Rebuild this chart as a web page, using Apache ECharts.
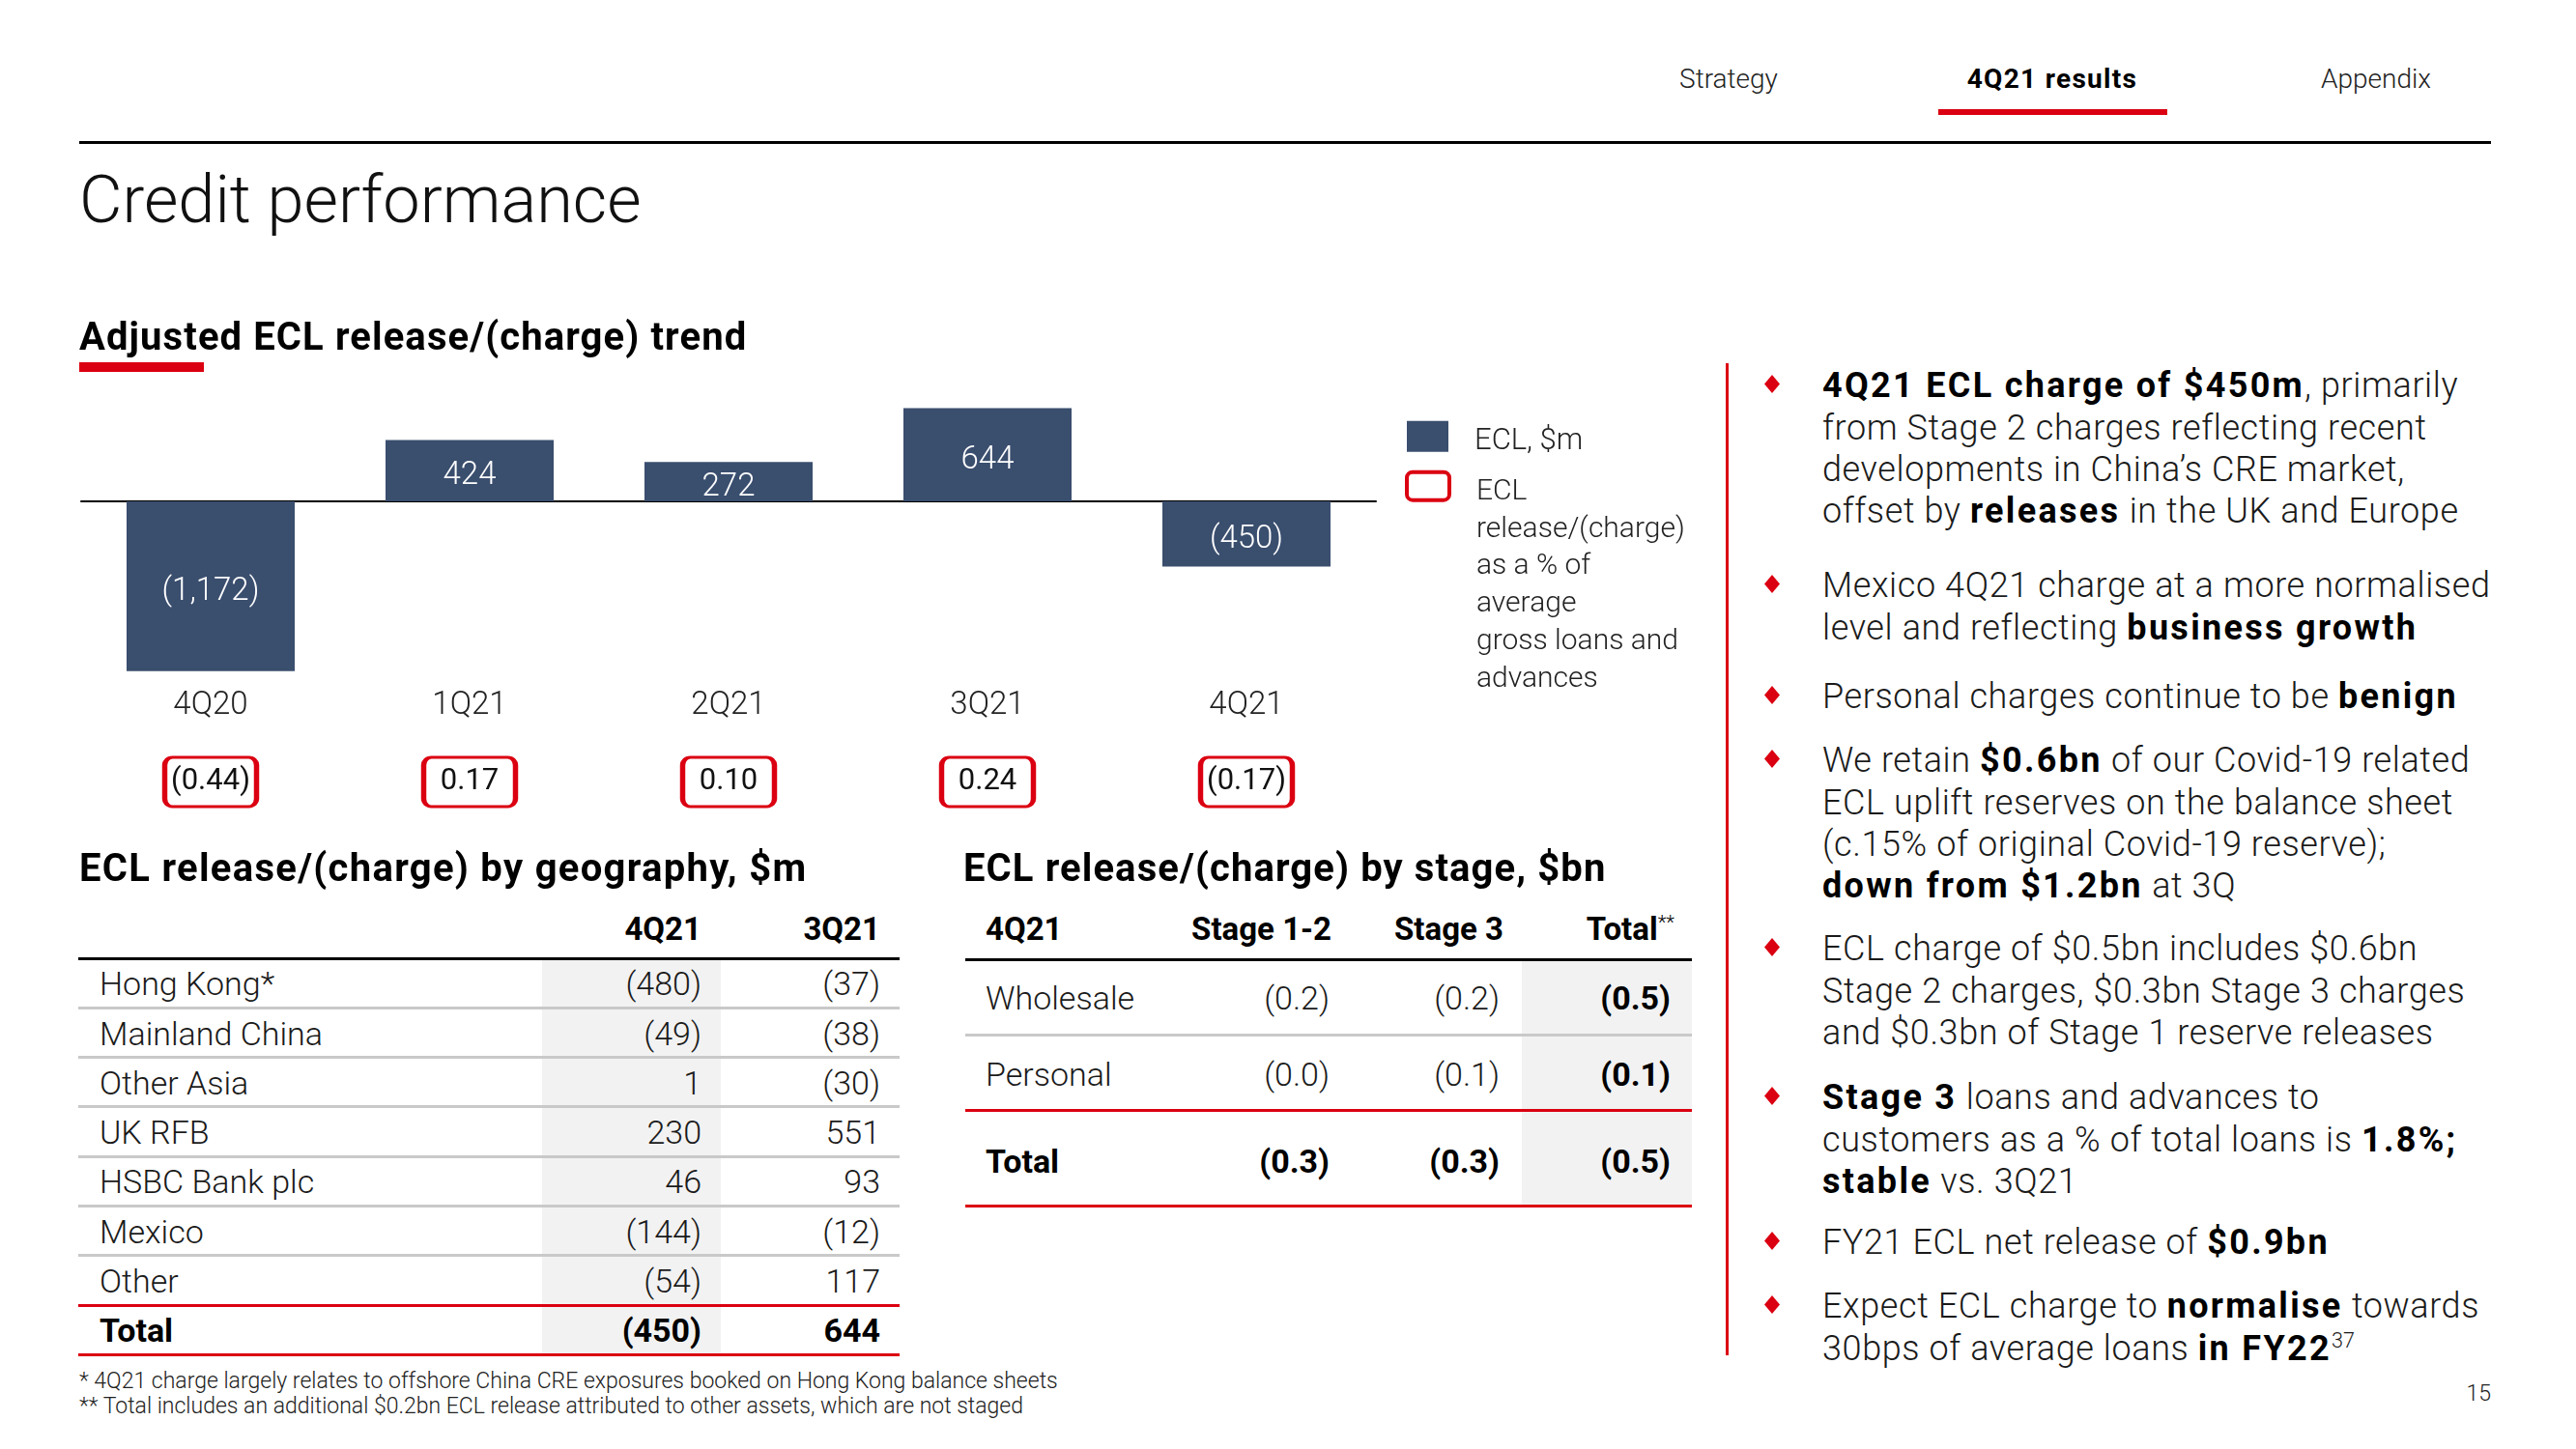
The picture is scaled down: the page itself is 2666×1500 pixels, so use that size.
<!DOCTYPE html>
<html><head><meta charset="utf-8">
<script src="https://cdn.jsdelivr.net/npm/echarts@6/dist/echarts.min.js"></script>
<style>
html,body{margin:0;padding:0;background:#fff;}
#slide{position:relative;width:2666px;height:1500px;overflow:hidden;background:#fff;font-family:Roboto,"Noto Sans",Arial,sans-serif;color:#1a1a1a;}
.t{position:absolute;white-space:nowrap;font-weight:300;}
.t b{font-weight:700;color:#000;}
.bl{letter-spacing:0.6px;}
.bl b{letter-spacing:2.3px;}
.r{position:absolute;}
</style></head>
<body><div id="slide"><div id="chart" style="position:absolute;left:0;top:250px;width:1780px;height:630px;"></div></div>
<script>
// ---------- data ----------
const categories = ['4Q20', '1Q21', '2Q21', '3Q21', '4Q21'];
const eclValues = [-1172, 424, 272, 644, -450];
const eclPct = [-0.44, 0.17, 0.10, 0.24, -0.17];
const barSeriesName = 'ECL, $m';
const pctSeriesName = 'ECL release/(charge) as a % of average gross loans and advances';
const pctLegendLines = ['ECL', 'release/(charge)', 'as a % of', 'average', 'gross loans and', 'advances'];

const geoHeaders = ['4Q21', '3Q21'];
const geoRegions = ['Hong Kong*', 'Mainland China', 'Other Asia', 'UK RFB', 'HSBC Bank plc', 'Mexico', 'Other', 'Total'];
const geo4Q21 = [-480, -49, 1, 230, 46, -144, -54, -450];
const geo3Q21 = [-37, -38, -30, 551, 93, -12, 117, 644];

const stageHeaders = ['4Q21', 'Stage 1-2', 'Stage 3', 'Total**'];
const stageRows = ['Wholesale', 'Personal', 'Total'];
const stage12 = [-0.2, -0.0, -0.3];
const stage3 = [-0.2, -0.1, -0.3];
const stageTotal = [-0.5, -0.1, -0.5];

const navItems = ['Strategy', '4Q21 results', 'Appendix'];
const bullets = [
  ['<b>4Q21 ECL charge of $450m</b>, primarily', 'from Stage 2 charges reflecting recent', 'developments in China’s CRE market,', 'offset by <b>releases</b> in the UK and Europe'],
  ['Mexico 4Q21 charge at a more normalised', 'level and reflecting <b>business growth</b>'],
  ['Personal charges continue to be <b>benign</b>'],
  ['We retain <b>$0.6bn</b> of our Covid-19 related', 'ECL uplift reserves on the balance sheet', '(c.15% of original Covid-19 reserve);', '<b>down from $1.2bn</b> at 3Q'],
  ['ECL charge of $0.5bn includes $0.6bn', 'Stage 2 charges, $0.3bn Stage 3 charges', 'and $0.3bn of Stage 1 reserve releases'],
  ['<b>Stage 3</b> loans and advances to', 'customers as a % of total loans is <b>1.8%;</b>', '<b>stable</b> vs. 3Q21'],
  ['FY21 ECL net release of <b>$0.9bn</b>'],
  ['Expect ECL charge to <b>normalise</b> towards', '30bps of average loans <b>in FY22</b><sup style="font-size:0.6em;vertical-align:0.6em;line-height:0;font-weight:300;letter-spacing:0">37</sup>']
];
const footnotes = ['* 4Q21 charge largely relates to offshore China CRE exposures booked on Hong Kong balance sheets',
                   '** Total includes an additional $0.2bn ECL release attributed to other assets, which are not staged'];

// ---------- helpers ----------
const RED = '#DB0011', NAVY = '#3A4E6E';
const FONT = 'Roboto, "Noto Sans", Arial, sans-serif';
const isNeg = v => v < 0 || (v === 0 && 1 / v < 0);
const fmtInt = v => isNeg(v) ? '(' + Math.abs(v).toLocaleString('en-US') + ')' : v.toLocaleString('en-US');
const fmtDec = (v, d) => isNeg(v) ? '(' + Math.abs(v).toFixed(d) + ')' : v.toFixed(d);

const slide = document.getElementById('slide');
function text(x, cy, html, o = {}) {
  const fs = o.fs || 32, lh = o.lh || fs * 1.2;
  const d = document.createElement('div'); d.className = 't' + (o.cls ? ' ' + o.cls : '');
  d.style.fontSize = fs + 'px'; d.style.lineHeight = lh + 'px';
  d.style.top = (cy - lh / 2) + 'px';
  if (o.align === 'right') d.style.right = (2666 - x) + 'px';
  else if (o.align === 'center') { d.style.left = x + 'px'; d.style.transform = 'translateX(-50%)'; }
  else d.style.left = x + 'px';
  if (o.bold) { d.style.fontWeight = 700; d.style.color = '#000'; }
  if (o.color) d.style.color = o.color;
  if (o.ls) d.style.letterSpacing = o.ls + 'px';
  d.innerHTML = html; slide.appendChild(d); return d;
}
function rect(x, y, w, h, c, extra) {
  const d = document.createElement('div'); d.className = 'r';
  Object.assign(d.style, {left: x + 'px', top: y + 'px', width: w + 'px', height: h + 'px', background: c});
  if (extra) Object.assign(d.style, extra);
  slide.appendChild(d); return d;
}

// ---------- header ----------
const navX = [1789, 2124, 2459];
navItems.forEach((n, i) => text(navX[i], 82, n, {fs: 28, align: 'center', bold: i === 1, ls: i === 1 ? 1.3 : 0, color: i === 1 ? '#000' : '#222'}));
rect(2006, 113, 237, 6, RED);
rect(82, 146, 2496, 3, '#000');
text(82, 207, 'Credit performance', {fs: 68.5, lh: 68, color: '#111'});
text(82, 349, 'Adjusted ECL release/(charge) trend', {fs: 40, bold: true, ls: 1.1});
rect(82, 375, 129, 10, RED);

// ---------- geography table ----------
text(82, 899, 'ECL release/(charge) by geography, $m', {fs: 40, bold: true, ls: 1.3});
const gx = [726, 911];
geoHeaders.forEach((h, i) => text(gx[i], 962, h, {fs: 33, bold: true, align: 'right'}));
const gStep = 51.3, g0 = 992;
rect(561, g0 + 1.5, 185, gStep * 8 - 1.5, '#F2F2F2');
rect(81, g0 - 1.5, 850, 3, '#000');
for (let k = 1; k <= 8; k++) {
  const y = g0 + k * gStep;
  rect(81, y - 1.5, 850, 3, k >= 7 ? RED : '#C9C9C9');
}
geoRegions.forEach((r, i) => {
  const cy = g0 + (i + 0.5) * gStep + 1;
  const bold = i === geoRegions.length - 1;
  text(103, cy, r, {fs: 34, bold});
  text(gx[0], cy, fmtInt(geo4Q21[i]), {fs: 34, bold, align: 'right'});
  text(gx[1], cy, fmtInt(geo3Q21[i]), {fs: 34, bold, align: 'right'});
});

// ---------- stage table ----------
text(997, 899, 'ECL release/(charge) by stage, $bn', {fs: 40, bold: true, ls: 1.1});
text(1020, 962, stageHeaders[0], {fs: 33, bold: true});
const sx = [1378, 1556, 1733];
text(sx[0], 962, stageHeaders[1], {fs: 33, bold: true, align: 'right'});
text(sx[1], 962, stageHeaders[2], {fs: 33, bold: true, align: 'right'});
text(sx[2], 962, stageHeaders[3].replace('**', '<span style="font-size:0.62em;vertical-align:0.55em;line-height:0;font-weight:300">**</span>'), {fs: 33, bold: true, align: 'right'});
rect(1575, 994, 176, 254, '#F2F2F2');
rect(999, 991.5, 752, 3, '#000');
rect(999, 1069.5, 752, 3, '#C9C9C9');
rect(999, 1147.5, 752, 3, RED);
rect(999, 1246.5, 752, 3, RED);
const sRowY = [1033, 1112, 1202];
const svx = [1376, 1552, 1729];
stageRows.forEach((r, i) => {
  const tot = i === stageRows.length - 1;
  text(1020, sRowY[i], r, {fs: 34, bold: tot});
  text(svx[0], sRowY[i], fmtDec(stage12[i], 1), {fs: 34, bold: tot, align: 'right'});
  text(svx[1], sRowY[i], fmtDec(stage3[i], 1), {fs: 34, bold: tot, align: 'right'});
  text(svx[2], sRowY[i], fmtDec(stageTotal[i], 1), {fs: 34, bold: true, align: 'right'});
});

// ---------- footnotes & page number ----------
text(82, 1430, footnotes[0], {fs: 23, lh: 26, color: '#222'});
text(82, 1456, footnotes[1], {fs: 23, lh: 26, color: '#222'});
text(2578, 1443, '15', {fs: 23, align: 'right', color: '#222'});

// ---------- bullets ----------
rect(1786, 376, 3, 1027, RED);
const bulletY = [399, 606, 721, 787, 982, 1136, 1286, 1352];
const BLH = 43.3;
bullets.forEach((lines, i) => {
  text(1886, bulletY[i] + 1, lines.join('<br>'), {fs: 36, lh: BLH, color: '#1a1a1a', cls: 'bl'}).style.top = (bulletY[i] + 1 - BLH / 2) + 'px';
  rect(1826, bulletY[i] - 11, 16, 19, RED, {clipPath: 'polygon(50% 0,100% 50%,50% 100%,0 50%)'});
});

// ---------- chart ----------
const boxPath = 'path://M8,0H87A8,8,0,0,1,95,8V43A8,8,0,0,1,87,51H8A8,8,0,0,1,0,43V8A8,8,0,0,1,8,0Z';
const legendBoxPath = 'path://M6,0H38A6,6,0,0,1,44,6V23A6,6,0,0,1,38,29H6A6,6,0,0,1,0,23V6A6,6,0,0,1,6,0Z';
const chart = echarts.init(document.getElementById('chart'), null, {renderer: 'canvas'});
const LEG_LH = 38.8;      // legend line height
const LEG_SHIFT = 6;      // move legend text down relative to icon centre
const LEG0_LH = 32;
const spacer0 = 2 * LEG_SHIFT;
const spacer1 = 2 * LEG_SHIFT + (pctLegendLines.length - 1) * LEG_LH;
const leg0H = spacer0 + LEG0_LH;
const leg1H = spacer1 + pctLegendLines.length * LEG_LH;
const legTextBase = {fontSize: 30, fontFamily: FONT, fontWeight: 300, color: '#222'};
chart.setOption({
  animation: false,
  grid: [
    {left: 84, top: 164, width: 1340, height: 285},
    {left: 84, top: 532, width: 1340, height: 55}
  ],
  xAxis: [
    {type: 'category', gridIndex: 0, data: categories,
     axisLine: {onZero: true, lineStyle: {color: '#000', width: 2}}, axisTick: {show: false}, axisLabel: {show: false}},
    {type: 'category', gridIndex: 0, position: 'bottom', data: categories,
     axisLine: {show: false, onZero: false}, axisTick: {show: false},
     axisLabel: {margin: 15, fontSize: 33, lineHeight: 33, fontFamily: FONT, fontWeight: 300, color: '#222'}},
    {type: 'category', gridIndex: 1, data: categories, show: false}
  ],
  yAxis: [
    {type: 'value', gridIndex: 0, min: -1200, max: 700, show: false},
    {type: 'category', gridIndex: 1, data: ['pct'], show: false}
  ],
  legend: [
    {data: [{name: barSeriesName}], left: 1456, top: 202 - (leg0H - spacer0) / 2 - 2.3, orient: 'vertical', padding: 0,
     itemWidth: 43, itemHeight: 32, icon: 'rect', selectedMode: false,
     formatter: name => '{s| }\n{t|' + name + '}',
     textStyle: Object.assign({}, legTextBase, {fontSize: 31, padding: [0, 0, 0, 22],
       rich: {s: {fontSize: 4, lineHeight: spacer0}, t: {fontSize: 31, lineHeight: LEG0_LH, fontFamily: FONT, fontWeight: 300, color: '#222'}}})},
    {data: [{name: pctSeriesName, icon: legendBoxPath, itemStyle: {color: '#fff', borderColor: RED, borderWidth: 4}}],
     left: 1454, top: 253.5 - (leg1H - spacer1) / 2 - 2.3, orient: 'vertical', padding: 0,
     itemWidth: 44, itemHeight: 29, selectedMode: false,
     formatter: () => '{s| }\n' + pctLegendLines.map(l => '{t|' + l + '}').join('\n'),
     textStyle: Object.assign({}, legTextBase, {padding: [0, 0, 0, 23],
       rich: {s: {fontSize: 4, lineHeight: spacer1}, t: {fontSize: 30, lineHeight: LEG_LH, fontFamily: FONT, fontWeight: 300, color: '#222'}}})}
  ],
  series: [
    {type: 'bar', name: barSeriesName, xAxisIndex: 0, yAxisIndex: 0, data: eclValues, barWidth: 174,
     itemStyle: {color: NAVY}, silent: true,
     label: {show: true, position: 'inside', offset: [0, 6], formatter: p => fmtInt(p.value), color: '#fff',
             fontSize: 33, fontFamily: FONT, fontWeight: 300}},
    {type: 'scatter', name: pctSeriesName, xAxisIndex: 2, yAxisIndex: 1,
     data: eclPct.map((v, i) => [categories[i], 'pct', v]),
     symbol: boxPath, symbolSize: [95, 51], silent: true,
     itemStyle: {color: '#fff', borderColor: RED, borderWidth: 4, opacity: 1},
     label: {show: true, position: 'inside', formatter: p => fmtDec(p.value[2], 2), color: '#111',
             fontSize: 31, fontFamily: FONT, fontWeight: 400}}
  ]
});
</script></body></html>
